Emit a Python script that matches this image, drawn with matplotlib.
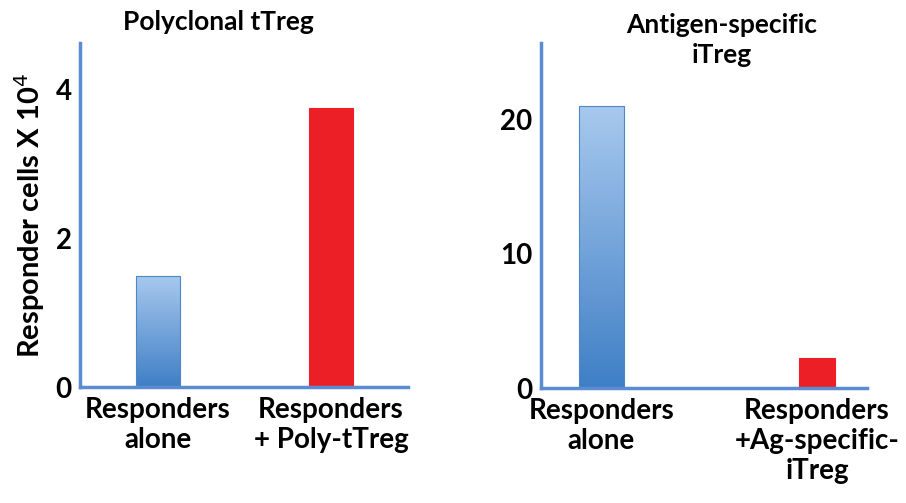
import numpy as np
import matplotlib
matplotlib.use("Agg")
import matplotlib.pyplot as plt
from matplotlib.colors import LinearSegmentedColormap

plt.rcParams['font.family'] = ['Lato', 'DejaVu Sans']

# Data
left_categories = ["Responders\nalone", "Responders\n+ Poly-tTreg"]
left_values = [1.5, 3.75]
left_ticks = [0, 2, 4]
left_title = "Polyclonal tTreg"

right_categories = ["Responders\nalone", "Responders\n+Ag-specific-\niTreg"]
right_values = [21.0, 2.2]
right_ticks = [0, 10, 20]
right_title = "Antigen-specific\niTreg"

ylabel = "Responder cells X 10$^4$"

AXIS_COLOR = "#5b8bd0"
RED = "#ec1f27"
blue_cmap = LinearSegmentedColormap.from_list("bl", ["#3f7fc6", "#a8c9ee"])

fig = plt.figure(figsize=(9.06, 5.03), dpi=100)
axL = fig.add_axes([0.0883, 0.2306, 0.362, 0.684])
axR = fig.add_axes([0.597, 0.2286, 0.360, 0.686])


def draw(ax, cats, vals, widths, ticks, ylim, xlim):
    x = np.arange(len(cats))
    bars = ax.bar(x, vals, width=widths, color=["none", RED], edgecolor=["#4f86c6", RED],
                  linewidth=0.8, zorder=2)
    b = bars[0]
    x0, y0 = b.get_x(), b.get_y()
    w, h = b.get_width(), b.get_height()
    grad = np.linspace(0, 1, 256).reshape(-1, 1)
    im = ax.imshow(grad, cmap=blue_cmap, origin="lower", aspect="auto",
                   extent=[x0, x0 + w, y0, y0 + h], zorder=1)
    im.set_clip_path(b)
    ax.set_xlim(*xlim)
    ax.set_ylim(*ylim)
    ax.set_xticks(x)
    ax.set_xticklabels(cats, fontsize=20, fontweight="bold", linespacing=1.2)
    ax.set_yticks(ticks)
    ax.set_yticklabels([str(t) for t in ticks], fontsize=20, fontweight="bold")
    ax.tick_params(axis="x", length=0, pad=7)
    ax.tick_params(axis="y", length=0, pad=6)
    for s in ["top", "right"]:
        ax.spines[s].set_visible(False)
    for s in ["left", "bottom"]:
        ax.spines[s].set_color(AXIS_COLOR)
        ax.spines[s].set_linewidth(2.5)


draw(axL, left_categories, left_values, [0.254, 0.25], left_ticks, (0, 4.63), (-0.451, 1.445))
draw(axR, right_categories, right_values, [0.209, 0.167], right_ticks, (0, 25.7), (-0.281, 1.232))

fig.text(218 / 906, 1 - 22 / 503, left_title, fontsize=19, fontweight="bold",
         ha="center", va="center")
fig.text(722 / 906, 1 - 40 / 503, right_title, fontsize=19, fontweight="bold",
         ha="center", va="center", linespacing=1.3)
axL.set_ylabel(ylabel, fontsize=21, fontweight="bold", labelpad=6)

fig.savefig("out.png", dpi=100, facecolor="white")
